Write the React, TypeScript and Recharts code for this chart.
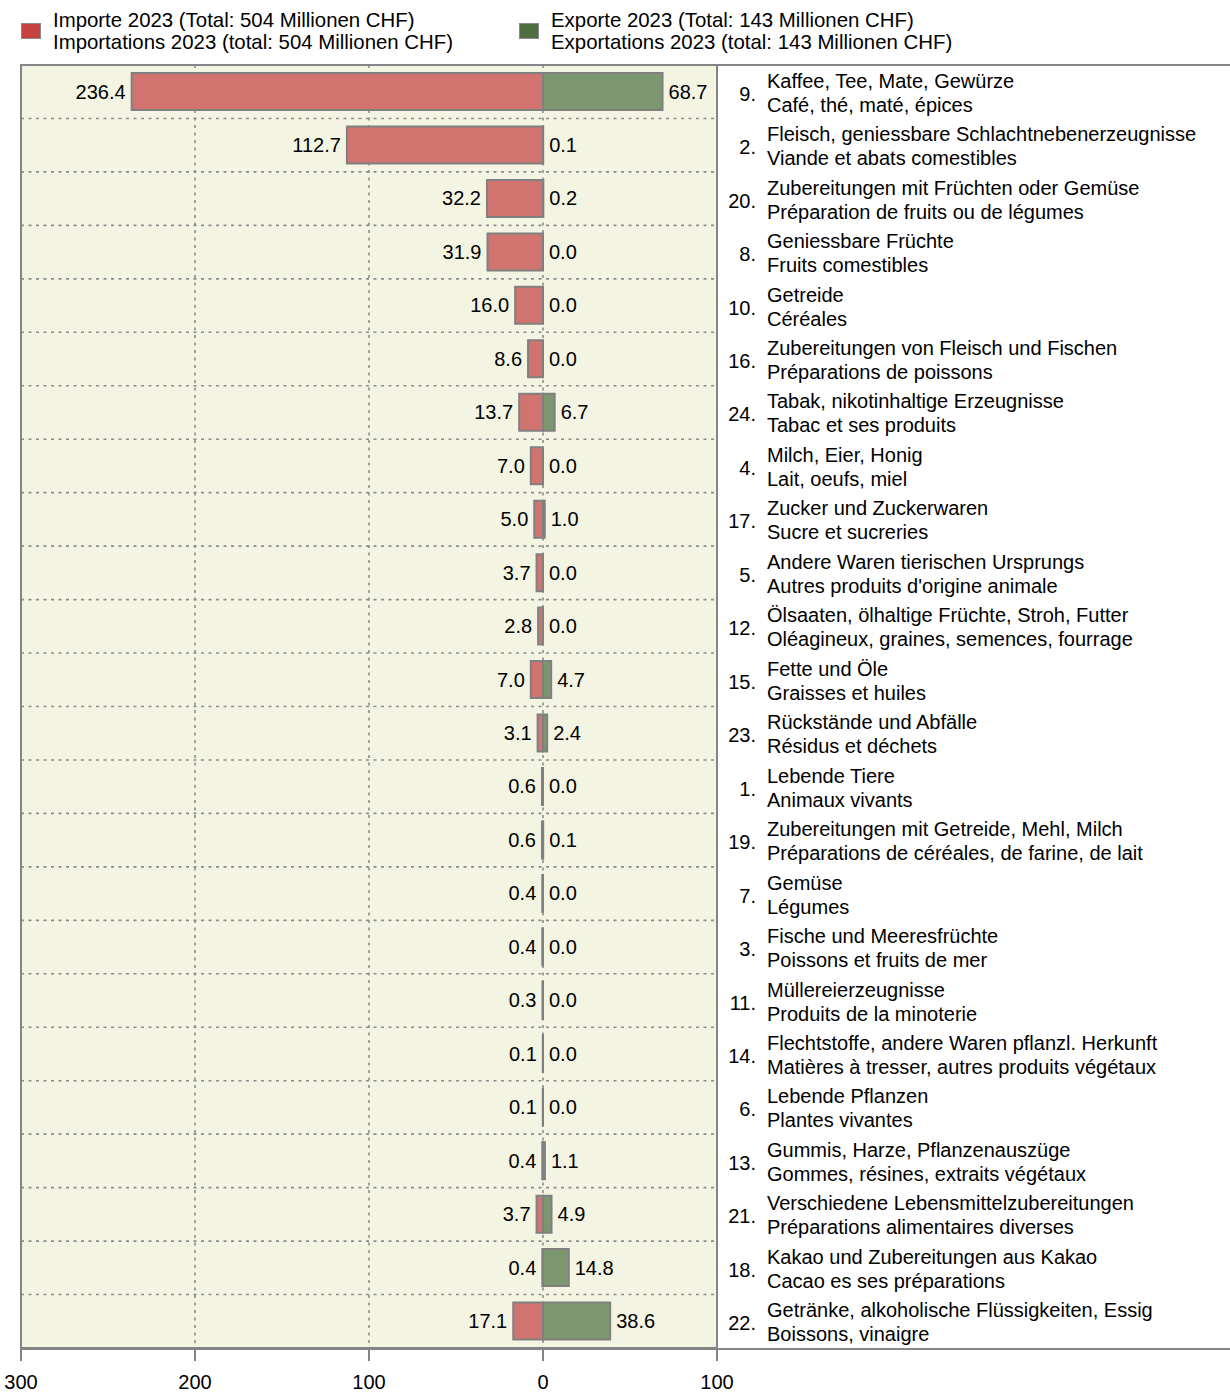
import React from 'react';
import { BarChart, Bar, XAxis, YAxis, CartesianGrid, LabelList } from 'recharts';

const codes = ['9.', '2.', '20.', '8.', '10.', '16.', '24.', '4.', '17.', '5.', '12.', '15.', '23.', '1.', '19.', '7.', '3.', '11.', '14.', '6.', '13.', '21.', '18.', '22.'];

const germanLabels = [
  'Kaffee, Tee, Mate, Gewürze',
  'Fleisch, geniessbare Schlachtnebenerzeugnisse',
  'Zubereitungen mit Früchten oder Gemüse',
  'Geniessbare Früchte',
  'Getreide',
  'Zubereitungen von Fleisch und Fischen',
  'Tabak, nikotinhaltige Erzeugnisse',
  'Milch, Eier, Honig',
  'Zucker und Zuckerwaren',
  'Andere Waren tierischen Ursprungs',
  'Ölsaaten, ölhaltige Früchte, Stroh, Futter',
  'Fette und Öle',
  'Rückstände und Abfälle',
  'Lebende Tiere',
  'Zubereitungen mit Getreide, Mehl, Milch',
  'Gemüse',
  'Fische und Meeresfrüchte',
  'Müllereierzeugnisse',
  'Flechtstoffe, andere Waren pflanzl. Herkunft',
  'Lebende Pflanzen',
  'Gummis, Harze, Pflanzenauszüge',
  'Verschiedene Lebensmittelzubereitungen',
  'Kakao und Zubereitungen aus Kakao',
  'Getränke, alkoholische Flüssigkeiten, Essig',
];

const frenchLabels = [
  'Café, thé, maté, épices',
  'Viande et abats comestibles',
  'Préparation de fruits ou de légumes',
  'Fruits comestibles',
  'Céréales',
  'Préparations de poissons',
  'Tabac et ses produits',
  'Lait, oeufs, miel',
  'Sucre et sucreries',
  "Autres produits d'origine animale",
  'Oléagineux, graines, semences, fourrage',
  'Graisses et huiles',
  'Résidus et déchets',
  'Animaux vivants',
  'Préparations de céréales, de farine, de lait',
  'Légumes',
  'Poissons et fruits de mer',
  'Produits de la minoterie',
  'Matières à tresser, autres produits végétaux',
  'Plantes vivantes',
  'Gommes, résines, extraits végétaux',
  'Préparations alimentaires diverses',
  'Cacao es ses préparations',
  'Boissons, vinaigre',
];

const importValues = [236.4, 112.7, 32.2, 31.9, 16.0, 8.6, 13.7, 7.0, 5.0, 3.7, 2.8, 7.0, 3.1, 0.6, 0.6, 0.4, 0.4, 0.3, 0.1, 0.1, 0.4, 3.7, 0.4, 17.1];
const exportValues = [68.7, 0.1, 0.2, 0.0, 0.0, 0.0, 6.7, 0.0, 1.0, 0.0, 0.0, 4.7, 2.4, 0.0, 0.1, 0.0, 0.0, 0.0, 0.0, 0.0, 1.1, 4.9, 14.8, 38.6];

const xTicks = [-300, -200, -100, 0, 100];

const legendItems = [
  { color: '#c84242', de: 'Importe 2023 (Total: 504 Millionen CHF)', fr: 'Importations 2023 (total: 504 Millionen CHF)' },
  { color: '#4e6e42', de: 'Exporte 2023 (Total: 143 Millionen CHF)', fr: 'Exportations 2023 (total: 143 Millionen CHF)' },
];

const data = codes.map((code, i) => ({
  code,
  imp: -importValues[i],
  exp: exportValues[i],
  impAbs: importValues[i],
  expAbs: exportValues[i],
}));

const FONT = '"Liberation Sans", Arial, sans-serif';
const GRAY = '#858585';
const W = 1230;
const H = 1392;
const MARGIN = { top: 65, right: 0, bottom: 0, left: 21 };
const XAXIS_H = 44;
const YAXIS_W = 513;

// Import labels are drawn from the import bars (all non-zero). The export label of the
// same row is placed using the import bar's own pixels-per-unit from the chart scale.
const RowLabels = (props: any) => {
  const { x, y, width, height, index } = props;
  const payload = props.payload || (typeof index === 'number' ? data[index] : undefined);
  let i = typeof index === 'number' ? index : -1;
  if (payload && payload.code) i = codes.indexOf(payload.code);
  if (i < 0) return null;
  const xa = Number(x);
  const xb = Number(x) + Number(width);
  const left = Math.min(xa, xb);
  const zero = Math.max(xa, xb);
  const pxPerUnit = Math.abs(Number(width)) / importValues[i];
  const expRight = zero + exportValues[i] * pxPerUnit;
  const cy = Number(y) + Number(height) / 2 + 7;
  return (
    <g fontSize={20} fontFamily={FONT} fill="#000">
      <text x={left - 6} y={cy} textAnchor="end">{importValues[i].toFixed(1)}</text>
      <text x={expRight + 6} y={cy} textAnchor="start">{exportValues[i].toFixed(1)}</text>
    </g>
  );
};

const RightTick = (props: any) => {
  const { x, y, payload } = props;
  const i = typeof payload?.index === 'number' ? payload.index : codes.indexOf(payload?.value);
  return (
    <g fontFamily={FONT} fontSize={20} fill="#000">
      <text x={x + 39} y={y + 9} textAnchor="end">{codes[i]}</text>
      <text x={x + 50} y={y - 4} textAnchor="start">{germanLabels[i]}</text>
      <text x={x + 50} y={y + 20} textAnchor="start">{frenchLabels[i]}</text>
    </g>
  );
};

const rowLines = (args: any) => {
  const off = args?.offset;
  const top = off && typeof off.top === 'number' ? off.top : MARGIN.top;
  const h = off && typeof off.height === 'number' ? off.height : H - MARGIN.top - XAXIS_H;
  const n = codes.length;
  const res: number[] = [];
  for (let i = 1; i < n; i++) res.push(top + (i * h) / n);
  return res;
};

export default function App() {
  return (
    <div style={{ position: 'absolute', left: 0, top: 0, width: W, height: H, background: '#fff', fontFamily: FONT }}>
      <BarChart
        width={W}
        height={H}
        data={data}
        layout="vertical"
        stackOffset="sign"
        margin={MARGIN}
        barCategoryGap="15%"
      >
        <CartesianGrid
          fill="#f4f4e3"
          fillOpacity={1}
          stroke="#8c8c8c"
          strokeWidth={1.6}
          strokeDasharray="3 4.5"
          horizontalCoordinatesGenerator={rowLines}
        />
        <XAxis
          type="number"
          domain={[-300, 100]}
          ticks={xTicks}
          allowDataOverflow
          tickFormatter={(v: number) => String(Math.abs(v))}
          height={XAXIS_H}
          axisLine={{ stroke: GRAY, strokeWidth: 2 }}
          tickLine={{ stroke: GRAY, strokeWidth: 2 }}
          tickSize={13}
          tickMargin={14}
          tick={{ fill: '#000', fontSize: 20, fontFamily: FONT }}
        />
        <YAxis
          type="category"
          dataKey="code"
          orientation="right"
          width={YAXIS_W}
          axisLine={{ stroke: GRAY, strokeWidth: 2 }}
          tickLine={false}
          tickSize={0}
          tickMargin={0}
          interval={0}
          tick={<RightTick />}
        />
        <Bar dataKey="imp" stackId="s" fill="#d1736f" stroke="#808080" strokeWidth={2} isAnimationActive={false}>
          <LabelList dataKey="impAbs" content={<RowLabels />} />
        </Bar>
        <Bar dataKey="exp" stackId="s" fill="#7c9670" stroke="#808080" strokeWidth={2} isAnimationActive={false} />
      </BarChart>
      <div style={{ position: 'absolute', left: 20, top: 64, width: W - 20, height: 1348 - 64 + 2, borderTop: `2px solid ${GRAY}`, borderBottom: `2px solid ${GRAY}`, borderLeft: `2px solid ${GRAY}`, boxSizing: 'border-box', pointerEvents: 'none' }} />
      {legendItems.map((it, k) => (
        <div key={k} style={{ position: 'absolute', left: k === 0 ? 21 : 519, top: 9, height: 46, fontSize: 20.4, lineHeight: '22px', color: '#000' }}>
          <div style={{ position: 'absolute', left: 0, top: 14, width: 18, height: 14, background: it.color, border: '1px solid #8a8a8a' }} />
          <div style={{ position: 'absolute', left: 32, top: 0, whiteSpace: 'nowrap' }}>
            <div>{it.de}</div>
            <div>{it.fr}</div>
          </div>
        </div>
      ))}
    </div>
  );
}
